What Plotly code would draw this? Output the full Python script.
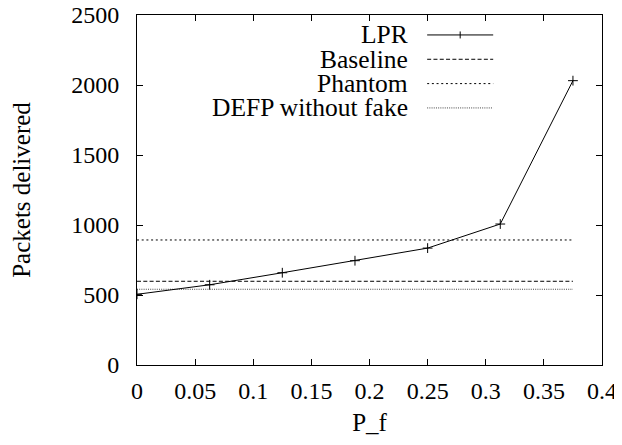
import plotly.graph_objects as go

# Data
p_f = [0, 0.0625, 0.125, 0.1875, 0.25, 0.3125, 0.375]
lpr = [505, 573, 659, 745, 835, 1007, 2031]
baseline = 598
phantom = 893
defp_without_fake = 541

x_ticks = [0, 0.05, 0.1, 0.15, 0.2, 0.25, 0.3, 0.35, 0.4]
y_ticks = [0, 500, 1000, 1500, 2000, 2500]

FONT = "Liberation Serif"
FS_TICK = 24
FS_TITLE = 25
FS_LEG = 25.5

fig = go.Figure()

fig.add_trace(go.Scatter(x=[p_f[0], p_f[-1]], y=[phantom, phantom], mode="lines",
                         line=dict(color="black", width=1, dash="2px,2.7px"), name="Phantom"))
fig.add_trace(go.Scatter(x=[p_f[0], p_f[-1]], y=[baseline, baseline], mode="lines",
                         line=dict(color="black", width=1, dash="4px,2.3px"), name="Baseline"))
fig.add_trace(go.Scatter(x=[p_f[0], p_f[-1]], y=[defp_without_fake, defp_without_fake], mode="lines",
                         line=dict(color="#444", width=1, dash="1px,1.2px"), name="DEFP without fake"))
fig.add_trace(go.Scatter(x=p_f, y=lpr, mode="lines+markers",
                         line=dict(color="black", width=1),
                         marker=dict(symbol="cross-thin", size=7, line=dict(color="black", width=1)),
                         name="LPR"))

# manual gnuplot-style legend (text left, sample right)
legend_items = [
    ("LPR", dict(color="black", width=1), True),
    ("Baseline", dict(color="black", width=1, dash="4px,2.3px"), False),
    ("Phantom", dict(color="black", width=1, dash="2px,2.7px"), False),
    ("DEFP without fake", dict(color="#444", width=1, dash="1px,1.2px"), False),
]
y0 = 0.943
step = 0.0695
for i, (label, ln, mk) in enumerate(legend_items):
    yy = y0 - i * step
    fig.add_annotation(x=0.587, y=yy, xref="paper", yref="paper", text=label,
                       showarrow=False, xanchor="right", yanchor="middle",
                       font=dict(family=FONT, size=FS_LEG, color="black"))
    fig.add_shape(type="line", xref="paper", yref="paper", x0=0.624, x1=0.766,
                  y0=yy, y1=yy, line=ln)
    if mk:
        fig.add_shape(type="line", xref="paper", yref="paper", x0=0.695, x1=0.695,
                      y0=yy - 0.01, y1=yy + 0.01, line=dict(color="black", width=1))

axis_common = dict(showgrid=False, zeroline=False, showline=True, linecolor="black",
                   linewidth=1, mirror="ticks", ticks="inside", ticklen=6, tickcolor="black",
                   automargin=False, ticklabeloverflow="allow",
                   tickfont=dict(family=FONT, size=FS_TICK, color="black"))

fig.update_xaxes(range=[0, 0.4], tickvals=x_ticks, ticktext=[f"{v:g}" for v in x_ticks],
                 ticklabelstandoff=4,
                 title=dict(text="P_f", font=dict(family=FONT, size=FS_TITLE, color="black"), standoff=10),
                 **axis_common)
fig.update_yaxes(range=[0, 2500], tickvals=y_ticks,
                 ticktext=[str(v) + "\u00a0\u00a0" for v in y_ticks],
                 title=dict(text="Packets delivered", font=dict(family=FONT, size=FS_TITLE, color="black"), standoff=38),
                 **axis_common)

fig.update_layout(width=622, height=445, showlegend=False,
                  margin=dict(l=129, r=28, t=7, b=88),
                  paper_bgcolor="white", plot_bgcolor="white",
                  font=dict(family=FONT, size=FS_TICK, color="black"))

fig.write_html("out.html")
